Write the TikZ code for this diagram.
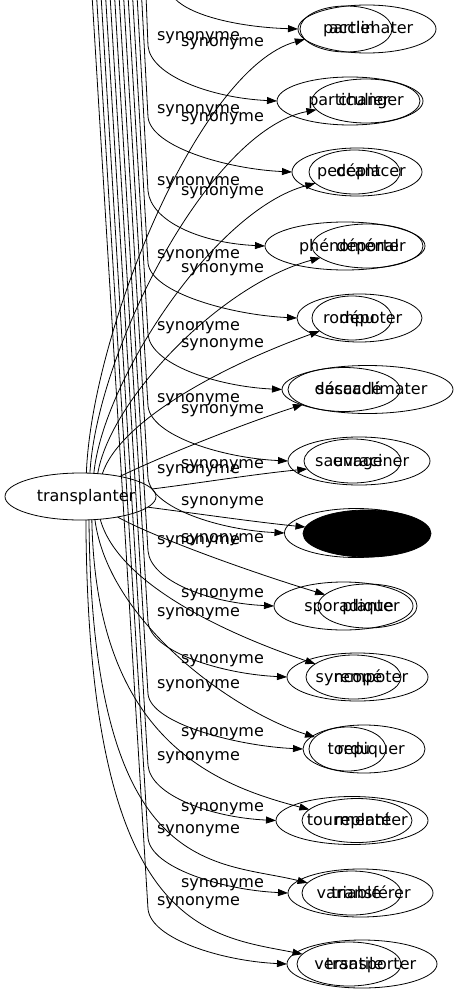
\documentclass[tikz,border=0pt]{standalone}
\usepackage{fontspec}
\setmainfont{DejaVu Sans}
\usetikzlibrary{shapes.geometric,arrows.meta}
\begin{document}
\begin{tikzpicture}[x=1pt,y=-1pt,
  ell/.style={draw, ellipse, inner sep=0pt, outer sep=0pt, line width=0.8pt},
  el/.style 2 args={ell, minimum width=#1, minimum height=#2},
  word/.style={anchor=base, inner sep=0pt, font=\fontsize{16}{19}\selectfont},
  lab/.style={inner sep=0pt, font=\fontsize{16}{19}\selectfont},
  syn/.style={draw, line width=0.8pt, -{Triangle[length=10pt,width=7pt]}}]
\useasboundingbox (0,0) rectangle (459,995);
\clip (0,0) rectangle (459,995);
% ---- ellipses
\node[el={138pt}{48pt}] (b1) at (367,29) {};
\node[el={92pt}{46pt}] (s1) at (346,29) {};
\node[el={146pt}{48pt}] (b2) at (350,101) {};
\node[el={108pt}{44pt}] (s2) at (366,101) {};
\node[el={130pt}{48pt}] (b3) at (357,172) {};
\node[el={91pt}{44pt}] (s3) at (354.5,172) {};
\node[el={160pt}{48pt}] (b4) at (345,246) {};
\node[el={111pt}{44pt}] (s4) at (367.5,246) {};
\node[el={125pt}{48pt}] (b5) at (359.5,318) {};
\node[el={80pt}{44pt}] (s5) at (352,318) {};
\node[el={171pt}{48pt}] (b6) at (367.5,389.5) {};
\node[el={112pt}{44pt}] (s6) at (344,389.5) {};
\node[el={142pt}{48pt}] (b7) at (359,461) {};
\node[el={97pt}{44pt}] (s7) at (352.5,461) {};
\node[el={143pt}{49pt}] (b8) at (356,533) {};
\node[el={139pt}{48pt}] (b9) at (343.5,606) {};
\node[el={99pt}{44pt}] (s9) at (367.5,606) {};
\node[el={141pt}{48pt}] (b10) at (357.5,677) {};
\node[el={95pt}{44pt}] (s10) at (353.5,677) {};
\node[el={122pt}{48pt}] (b11) at (364,749) {};
\node[el={77pt}{44pt}] (s11) at (347.5,749) {};
\node[el={152pt}{48pt}] (b12) at (352,820.5) {};
\node[el={110pt}{44pt}] (s12) at (357,820.5) {};
\node[el={145pt}{48pt}] (b13) at (360.5,893) {};
\node[el={99pt}{44pt}] (s13) at (351.5,893) {};
\node[el={150pt}{48pt}] (b14) at (362,964) {};
\node[el={104pt}{44pt}] (s14) at (349,964) {};
\node[el={151pt}{47pt}] (T) at (80.5,496.5) {};
% ---- words
\node[word] (tw) at (86,501.5) {transplanter};
\node[word] (w1a) at (349,34) {partiel};
\node[word] (w1b) at (371,34) {acclimater};
\node[word] (w2a) at (349,106) {particulier};
\node[word] (w2b) at (371,106) {changer};
\node[word] (w3a) at (349,177) {peccant};
\node[word] (w3b) at (371,177) {déplacer};
\node[word] (w4a) at (349,251) {phénoménal};
\node[word] (w4b) at (371,251) {déporter};
\node[word] (w5a) at (349,323) {rompu};
\node[word] (w5b) at (371,323) {dépoter};
\node[word] (w6a) at (349,394.5) {saccadé};
\node[word] (w6b) at (371,394.5) {désacclimater};
\node[word] (w7a) at (349,466) {sauvage};
\node[word] (w7b) at (371,466) {enraciner};
\node[word] (w9a) at (349,611) {sporadique};
\node[word] (w9b) at (371,611) {planter};
\node[word] (w10a) at (349,682) {syncopé};
\node[word] (w10b) at (371,682) {rempoter};
\node[word] (w11a) at (349,754) {tordu};
\node[word] (w11b) at (371,754) {repiquer};
\node[word] (w12a) at (349,825.5) {tourmenté};
\node[word] (w12b) at (371,825.5) {replanter};
\node[word] (w13a) at (349,898) {variable};
\node[word] (w13b) at (371,898) {transférer};
\node[word] (w14a) at (349,969) {versatile};
\node[word] (w14b) at (371,969) {transporter};
% black node of row 8
\node[el={128pt}{47pt}, fill=black] (s8) at (367,533.5) {};
% ---- edge labels
\node[lab] (l1a) at (198.5,38) {synonyme};
\node[lab] (l1b) at (222.5,44) {synonyme};
\node[lab] (l2a) at (198.5,111) {synonyme};
\node[lab] (l2b) at (222.5,119) {synonyme};
\node[lab] (l3a) at (198.5,183) {synonyme};
\node[lab] (l3b) at (222.5,193) {synonyme};
\node[lab] (l4a) at (198.5,256) {synonyme};
\node[lab] (l4b) at (222.5,270) {synonyme};
\node[lab] (l5a) at (198.5,327.5) {synonyme};
\node[lab] (l5b) at (222.5,345) {synonyme};
\node[lab] (l6a) at (198.5,399.5) {synonyme};
\node[lab] (l6b) at (222.5,411) {synonyme};
\node[lab] (l7b) at (222.5,466) {synonyme};
\node[lab] (l7a) at (198.5,471) {synonyme};
\node[lab] (l8c) at (222.5,502.5) {synonyme};
\node[lab] (l8b) at (222.5,539.5) {synonyme};
\node[lab] (l8a) at (198.5,541.5) {synonyme};
\node[lab] (l9b) at (222.5,594.5) {synonyme};
\node[lab] (l9a) at (198.5,614) {synonyme};
\node[lab] (l10b) at (222.5,660.5) {synonyme};
\node[lab] (l10a) at (198.5,686) {synonyme};
\node[lab] (l11b) at (222.5,734) {synonyme};
\node[lab] (l11a) at (198.5,758) {synonyme};
\node[lab] (l12b) at (222.5,809) {synonyme};
\node[lab] (l12a) at (198.5,831) {synonyme};
\node[lab] (l13b) at (222.5,884.5) {synonyme};
\node[lab] (l13a) at (198.5,902.5) {synonyme};
% ---- off-frame origins of the upper graph's edges
\coordinate (a1) at (172,-5);
\coordinate (a2) at (146,-5);
\coordinate (a3) at (141.5,-5);
\coordinate (a4) at (137,-5);
\coordinate (a5) at (132.5,-5);
\coordinate (a6) at (128,-5);
\coordinate (a7) at (123.5,-5);
\coordinate (a8) at (119,-5);
\coordinate (a9) at (114.5,-5);
\coordinate (a10) at (110,-5);
\coordinate (a11) at (105.5,-5);
\coordinate (a12) at (101,-5);
\coordinate (a13) at (96.5,-5);
\coordinate (a14) at (92,-5);
% ---- edges coming from above
\draw[syn] (a1) .. controls (184,14) and (235,27) .. (b1.west);
\draw[syn] (a2) -- (148,46) .. controls (151,76) and (212,98) .. (b2.west);
\draw[syn] (a3) -- (148,117) .. controls (151,147) and (227,169) .. (b3.west);
\draw[syn] (a4) -- (148,191) .. controls (151,221) and (200,243) .. (b4.west);
\draw[syn] (a5) -- (148,263) .. controls (151,293) and (232,315) .. (b5.west);
\draw[syn] (a6) -- (148,334.5) .. controls (151,364.5) and (217,386.5) .. (b6.west);
\draw[syn] (a7) -- (148,406) .. controls (151,436) and (223,458) .. (b7.west);
\draw[syn] (a8) -- (148,478) .. controls (151,508) and (219.5,530) .. (b8.west);
\draw[syn] (a9) -- (148,551) .. controls (151,581) and (209,603) .. (b9.west);
\draw[syn] (a10) -- (148,622) .. controls (151,652) and (222,674) .. (b10.west);
\draw[syn] (a11) -- (148,694) .. controls (151,724) and (238,746) .. (b11.west);
\draw[syn] (a12) -- (148,765.5) .. controls (151,795.5) and (211,817.5) .. (b12.west);
\draw[syn] (a13) -- (148,838) .. controls (151,868) and (223,890) .. (b13.west);
\draw[syn] (a14) -- (148,909) .. controls (151,939) and (222,961) .. (b14.west);
% ---- edges from transplanter
\draw[syn] (T.76) .. controls (92,330) and (200,68) .. (s1.194);
\draw[syn] (T.68) .. controls (97,350) and (210,130) .. (s2.190);
\draw[syn] (T.60) .. controls (103,380) and (215,210) .. (s3.196);
\draw[syn] (T.53) .. controls (110,400) and (220,285) .. (s4.194);
\draw[syn] (T.46) .. controls (120,420) and (225,365) .. (s5.202);
\draw[syn] (T.27) .. controls (160,457) and (240,425) .. (s6.200);
\draw[syn] (T.6) .. controls (200,483) and (255,474) .. (s7.190);
\draw[syn] (T.351) .. controls (200,514) and (255,522) .. (s8.174);
\draw[syn] (T.331) .. controls (160,540) and (260,575) .. (s9.165);
\draw[syn] (T.311) .. controls (118,585) and (230,635) .. (s10.161);
\draw[syn] (T.302) .. controls (108,620) and (230,710) .. (s11.160);
\draw[syn] (T.296) .. controls (96,740) and (215,785) .. (s12.167);
\draw[syn] (T.290) .. controls (92,880) and (215,860) .. (s13.167);
\draw[syn] (T.283) .. controls (88,930) and (205,935) .. (s14.168);
\end{tikzpicture}
\end{document}
